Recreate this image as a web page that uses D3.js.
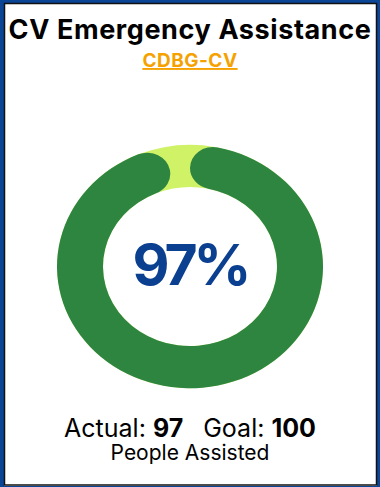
<!DOCTYPE html>
<html>
<head>
<meta charset="utf-8">
<script src="https://cdn.jsdelivr.net/npm/d3@7"></script>
<style>
  html, body { margin: 0; padding: 0; background: #fff; }
  svg { display: block; }
</style>
</head>
<body>
<div id="chart"></div>
<script>
// Card content
const title = "CV Emergency Assistance";
const subtitle = "CDBG-CV";
const actualValue = [97];
const goalValue = [100];
const unitLabel = ["People Assisted"];

const W = 380, H = 487;
const svg = d3.select("#chart").append("svg")
  .attr("width", W).attr("height", H);

// Frame: blue edge with a thin dark inner line
svg.append("rect").attr("x", 0).attr("y", 0).attr("width", W).attr("height", H)
  .attr("fill", "#0b4596");
svg.append("rect").attr("x", 4).attr("y", 3).attr("width", 373).attr("height", 483)
  .attr("fill", "#fff");
svg.append("rect").attr("x", 4.5).attr("y", 3.5).attr("width", 372).attr("height", 481.5)
  .attr("fill", "none").attr("stroke", "#111").attr("stroke-width", 1.5);

svg.append("text")
  .attr("x", W / 2).attr("y", 39)
  .attr("text-anchor", "middle")
  .attr("font-family", "Inter, 'Open Sans', sans-serif")
  .attr("font-weight", 700)
  .attr("font-size", 27)
  .attr("letter-spacing", 0.6)
  .attr("fill", "#000")
  .text(title);

svg.append("text")
  .attr("x", W / 2).attr("y", 67)
  .attr("text-anchor", "middle")
  .attr("font-family", "Inter, 'Open Sans', sans-serif")
  .attr("font-weight", 700)
  .attr("font-size", 19)
  .attr("letter-spacing", 0.5)
  .attr("fill", "#f5a200")
  .attr("text-decoration", "underline")
  .text(subtitle);

// Progress ring (drawn slightly flattened vertically)
const cx = 190, cy = 266.5, rOuter = 133, rInner = 87, squash = 0.915;
const pct = actualValue[0] / goalValue[0];
const angle = d3.scaleLinear().domain([0, goalValue[0]]).range([0, 2 * Math.PI]);

const g = svg.append("g").attr("transform", `translate(${cx},${cy}) scale(1,${squash})`);
const arc = d3.arc().innerRadius(rInner).outerRadius(rOuter);

g.append("path")
  .attr("d", arc({ startAngle: 0, endAngle: 2 * Math.PI }))
  .attr("fill", "#cff267");

g.append("path")
  .attr("d", d3.arc().innerRadius(rInner).outerRadius(rOuter)
    .cornerRadius((rOuter - rInner) / 2)({ startAngle: angle(0), endAngle: angle(actualValue[0]) }))
  .attr("fill", "#2e8540");

svg.append("text")
  .attr("x", cx).attr("y", 285)
  .attr("text-anchor", "middle")
  .attr("font-family", "Inter, 'Open Sans', sans-serif")
  .attr("font-weight", 700)
  .attr("font-size", 57)
  .attr("letter-spacing", -4)
  .attr("fill", "#0b3f8f")
  .text(Math.round(pct * 100) + "%");

// Totals
const t = svg.append("text")
  .attr("x", W / 2).attr("y", 437)
  .attr("text-anchor", "middle")
  .attr("font-family", "Inter, 'Open Sans', sans-serif")
  .attr("font-size", 25)
  .attr("fill", "#000");
t.append("tspan").text("Actual: ");
t.append("tspan").attr("font-weight", 700).text(actualValue[0]);
t.append("tspan").attr("dx", 20).text("Goal: ");
t.append("tspan").attr("font-weight", 700).text(goalValue[0]);

svg.append("text")
  .attr("x", W / 2).attr("y", 460)
  .attr("text-anchor", "middle")
  .attr("font-family", "Inter, 'Open Sans', sans-serif")
  .attr("font-size", 21)
  .attr("fill", "#000")
  .text(unitLabel[0]);
</script>
</body>
</html>
